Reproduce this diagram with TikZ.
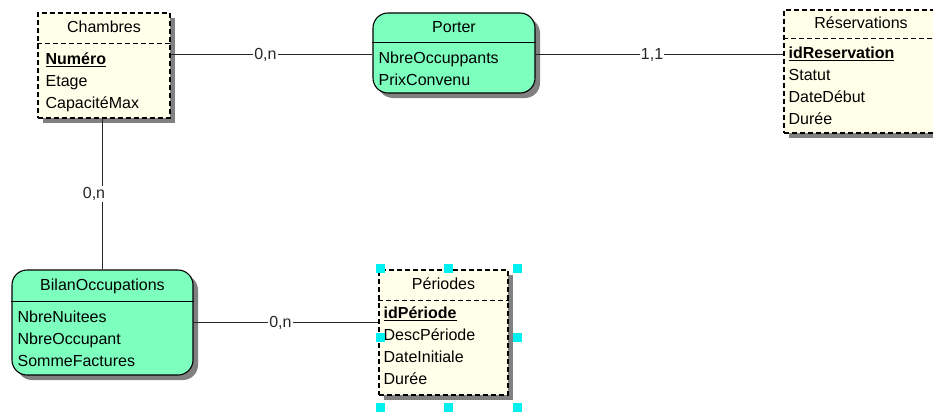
\documentclass[tikz,border=0pt]{standalone}
\usepackage{fontspec}
\setmainfont{Liberation Sans}
\usetikzlibrary{positioning,shadows}
\definecolor{entfill}{HTML}{FFFFEA}
\definecolor{assfill}{HTML}{7DFFBE}
\definecolor{shade}{HTML}{808080}
\definecolor{handle}{HTML}{00F0F0}
\tikzset{
  boxshadow/.style={drop shadow={shadow xshift=5pt, shadow yshift=-5pt,
                    fill=shade, opacity=1}},
  entity/.style={draw, dashed, dash pattern=on 5pt off 3pt, line width=1.1pt,
                 fill=entfill, rectangle, inner sep=0pt, boxshadow},
  assoc/.style={draw, line width=1.1pt, fill=assfill, rectangle,
                rounded corners=15pt, inner sep=0pt, boxshadow},
  entsep/.style={dashed, dash pattern=on 5pt off 3pt, line width=1.1pt},
  asssep/.style={line width=1.1pt},
  ttl/.style={font=\fontsize{16}{16}\selectfont, inner sep=0pt, anchor=base},
  % multi-line node: base is the baseline of the last line
  attrs/.style={font=\fontsize{16}{22}\selectfont, align=left, inner sep=0pt,
                anchor=base west},
  link/.style={line width=1pt, black!85},
  card/.style={fill=white, inner sep=1pt, font=\fontsize{16}{16}\selectfont},
  handlebox/.style={fill=handle, minimum size=9pt, inner sep=0pt},
}

\begin{document}
\begin{tikzpicture}[x=1pt, y=-1pt]
  \useasboundingbox (0,0) rectangle (933,412);

  % entities and associations
  \node[entity, minimum width=132pt, minimum height=105pt] (cham) at (104,65.5) {};
  \node[assoc,  minimum width=162pt, minimum height=80pt]  (por)  at (454,53)   {};
  \node[entity, minimum width=154pt, minimum height=123pt] (res)  at (861,71.5) {};
  \node[assoc,  minimum width=181pt, minimum height=105pt] (bil)  at (102.5,322.5) {};
  \node[entity, minimum width=129pt, minimum height=125pt] (per)  at (443.5,332.5) {};

  % title separators
  \draw[entsep] ([yshift=-31pt]cham.north west) -- ([yshift=-31pt]cham.north east);
  \draw[asssep] ([yshift=-30pt]por.north west)  -- ([yshift=-30pt]por.north east);
  \draw[entsep] ([yshift=-29pt]res.north west)  -- ([yshift=-29pt]res.north east);
  \draw[asssep] ([yshift=-32pt]bil.north west)  -- ([yshift=-32pt]bil.north east);
  \draw[entsep] ([yshift=-31pt]per.north west)  -- ([yshift=-31pt]per.north east);

  % titles
  \node[ttl] (chamT) at ([yshift=-20pt]cham.north) {Chambres};
  \node[ttl] (porT)  at ([yshift=-20pt]por.north)  {Porter};
  \node[ttl] (resT)  at ([yshift=-19pt]res.north)  {Réservations};
  \node[ttl] (bilT)  at ([yshift=-21pt]bil.north)  {BilanOccupations};
  \node[ttl] (perT)  at ([yshift=-20pt]per.north)  {Périodes};

  % attributes
  \node[attrs] (chamA) at ([shift={(8pt,-96pt)}]cham.north west)
    {\underline{\textbf{Numéro}}\\Etage\\CapacitéMax};
  \node[attrs] (porA)  at ([shift={(6pt,-73pt)}]por.north west)
    {NbreOccuppants\\PrixConvenu};
  \node[attrs] (resA)  at ([shift={(5pt,-115pt)}]res.north west)
    {\underline{\textbf{idReservation}}\\Statut\\DateDébut\\Durée};
  \node[attrs] (bilA)  at ([shift={(6pt,-97pt)}]bil.north west)
    {NbreNuitees\\NbreOccupant\\SommeFactures};
  \node[attrs] (perA)  at ([shift={(5pt,-115pt)}]per.north west)
    {\underline{\textbf{idPériode}}\\DescPériode\\DateInitiale\\Durée};

  % links
  \coordinate (porL) at ([yshift=-2pt]por.west);
  \coordinate (porR) at ([yshift=-2pt]por.east);
  \draw[link] (cham.east |- porL) -- node[card, pos=0.47] (c1) {0,n} (porL);
  \draw[link] (porR) -- node[card, pos=0.47] (c2) {1,1} (res.west |- porR);
  \draw[link] ([xshift=-2pt]cham.south) -- node[card, xshift=-8pt] (c3) {0,n}
    ([xshift=-2pt]cham.south |- bil.north);
  \draw[link] (bil.east) -- node[card, pos=0.47] (c4) {0,n} (per.west |- bil.east);

  % selection handles
  \foreach \hx/\hy [count=\i] in {380/268, 448/268, 517/268, 380/337,
                                  517/337, 380/407, 448/407, 517/407}
    \node[handlebox] (h\i) at (\hx,\hy) {};
\end{tikzpicture}
\end{document}
